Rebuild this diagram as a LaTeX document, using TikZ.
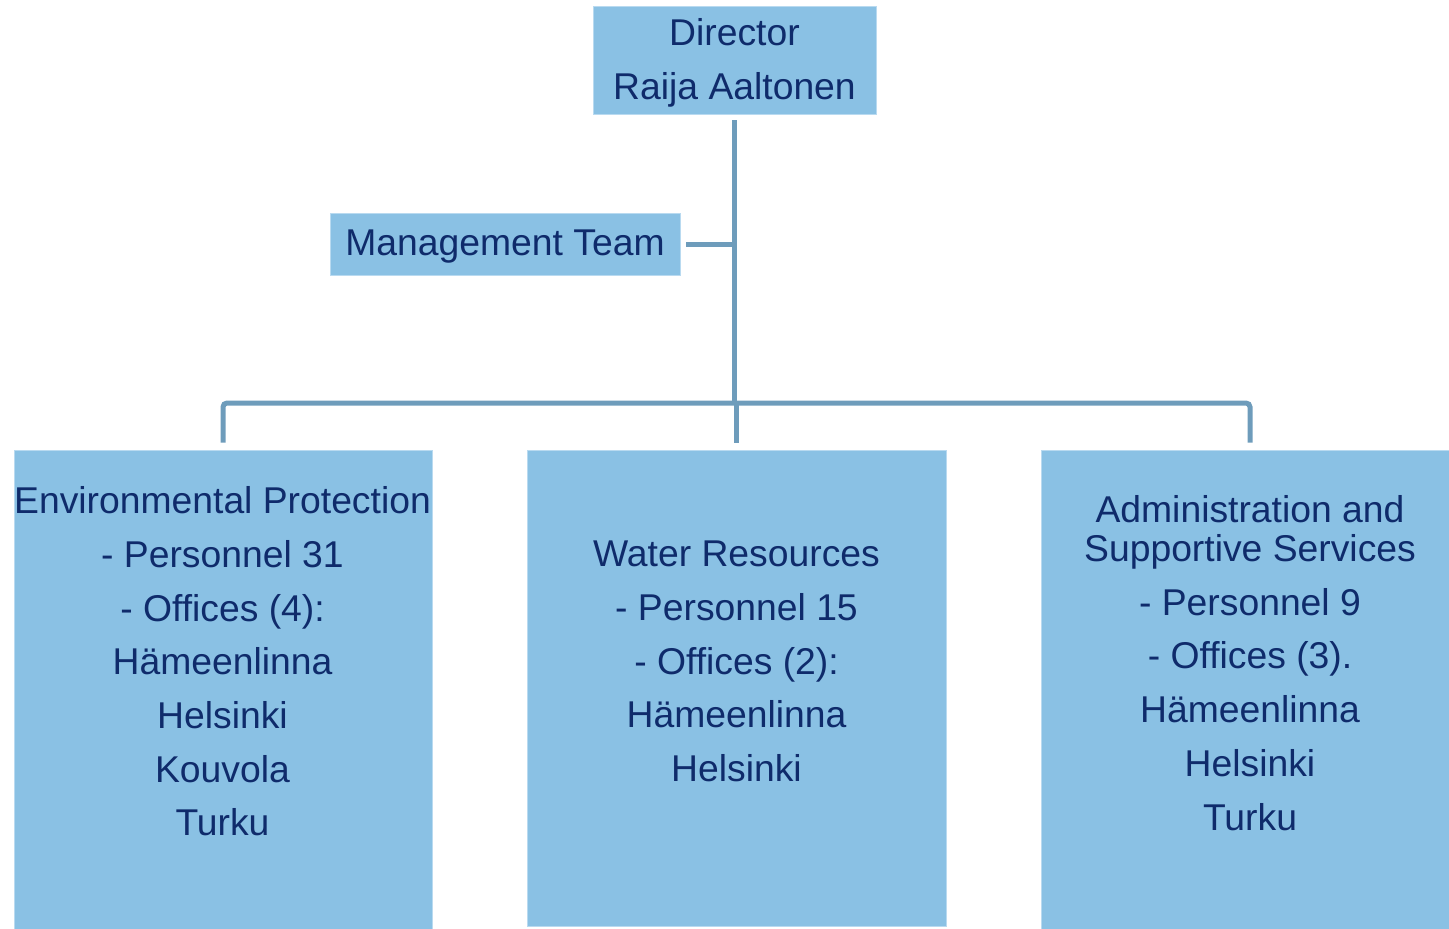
\documentclass[tikz,border=0pt]{standalone}
\usepackage{fontspec}
\setmainfont{Liberation Sans}
\definecolor{boxfill}{HTML}{8AC1E4}
\definecolor{boxedge}{HTML}{B9DAF0}
\definecolor{txt}{HTML}{0F2B6B}
\definecolor{conncol}{HTML}{6E9CBB}
\tikzset{
  orgbox/.style={rectangle, fill=boxfill, draw=boxedge, line width=0.8pt, inner sep=0pt, anchor=center},
  orgtext/.style={text=txt, align=center, inner sep=0pt, font=\fontsize{37.3}{53.7}\selectfont},
  conn/.style={draw=conncol, line width=5pt},
}
\begin{document}
\begin{tikzpicture}[x=1pt,y=-1pt]
\useasboundingbox (0,0) rectangle (1449,929);
% boxes
\node[orgbox, minimum width=283pt, minimum height=108pt] (dir) at (734.5,60) {};
\node[orgbox, minimum width=350pt, minimum height=62pt] (mgmt) at (505,244) {};
\node[orgbox, minimum width=418pt, minimum height=480pt] (env) at (223,690) {};
\node[orgbox, minimum width=419pt, minimum height=476pt] (wat) at (736.5,688) {};
\node[orgbox, minimum width=418pt, minimum height=480pt] (adm) at (1250,690) {};
% texts
\node[orgtext] (dirt) at (734.5,63) {Director\\Raija Aaltonen};
\node[orgtext] (mgmtt) at (505,247) {Management Team};
\node[orgtext] (envt) at (222.5,661.5) {Environmental Protection\\- Personnel 31\\- Offices (4):\\Hämeenlinna\\Helsinki\\Kouvola\\Turku};
\node[orgtext] (watt) at (736.5,661.5) {Water Resources\\- Personnel 15\\- Offices (2):\\Hämeenlinna\\Helsinki};
\node[orgtext] (admt) at (1250,663) {Administration and\\[-14.7pt]Supportive Services\\- Personnel 9\\- Offices (3).\\Hämeenlinna\\Helsinki\\Turku};
% connectors
\coordinate (bus) at (734.5,403);
\draw[conn, shorten <=6pt] (dir.south) -- (bus);
\draw[conn, shorten <=6pt] (mgmt.east) -- (mgmt.east -| bus);
\draw[conn, rounded corners=4pt, shorten <=7pt, shorten >=7pt] (env.north) |- (bus) -| (adm.north);
\draw[conn, shorten >=7pt] (bus -| wat.north) -- (wat.north);
\end{tikzpicture}
\end{document}
